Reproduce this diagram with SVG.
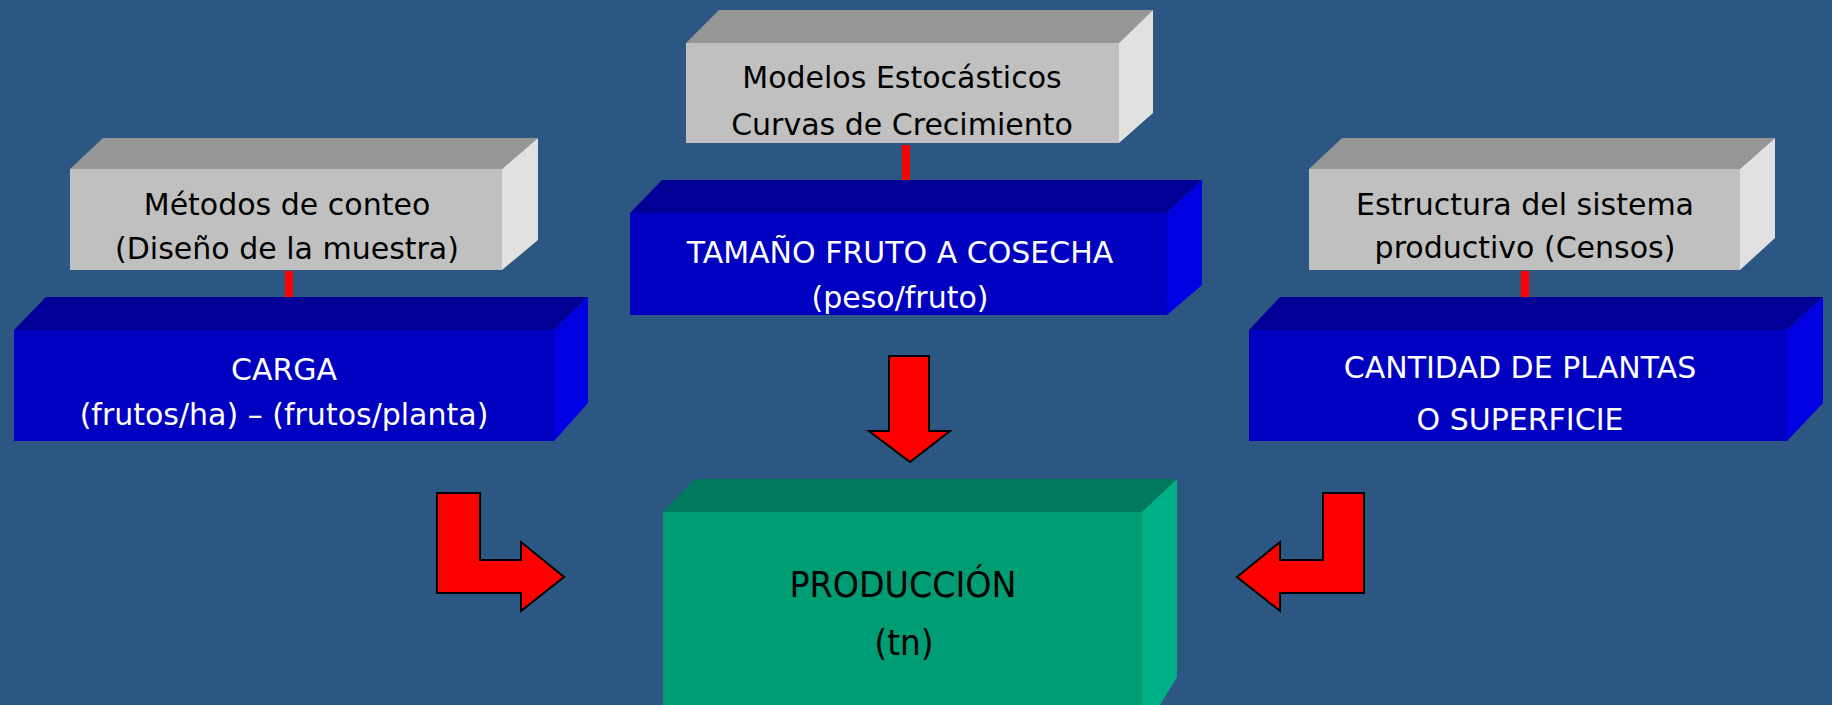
<svg xmlns="http://www.w3.org/2000/svg" width="1832" height="705" viewBox="0 0 1832 705">
<style>
.t{font-family:"DejaVu Sans","Liberation Sans",sans-serif;font-size:30px;text-anchor:middle}
.dk{fill:#000}
.wh{fill:#fff}
.gf{fill:#c0c0c0}.gt{fill:#969696}.gs{fill:#e1e1e1}
.bf{fill:#0000c0}.bt{fill:#000096}.bs{fill:#0000e3}
.ef{fill:#009c74}.et{fill:#007a5c}.es{fill:#00b087}
.link{fill:#ff0000}
.arr{fill:#ff0000;stroke:#000;stroke-width:2;stroke-linejoin:miter}
</style>
<defs>
<clipPath id="clipTam"><rect x="630" y="213" width="537" height="102"/></clipPath>
</defs>
<rect width="1832" height="705" fill="#2c5782"/>

<g id="connectors">
<rect class="link" x="285" y="271" width="8" height="52"/>
<rect class="link" x="902" y="145" width="8" height="51"/>
<rect class="link" x="1521" y="271" width="8" height="52"/>
<polygon class="arr" points="889,356 929,356 929,431 950,431 910,462 869,431 889,431"/>
<polygon class="arr" points="437,493 480,493 480,560 521,560 521,542 564,577 521,611 521,593 437,593"/>
<polygon class="arr" points="1364,493 1323,493 1323,560 1280,560 1280,542 1237,577 1280,611 1280,593 1364,593"/>
</g>

<g id="metodos">
<polygon class="gt" points="70,169 103,138 538,138 502,169"/>
<polygon class="gs" points="502,169 538,138 538,240 502,270"/>
<rect class="gf" x="70" y="169" width="432" height="101"/>
<text class="t dk" x="287" y="215">Métodos de conteo</text>
<text class="t dk" x="287" y="259">(Diseño de la muestra)</text>
</g>

<g id="carga">
<polygon class="bt" points="14,330 46,297 588,297 554,330"/>
<polygon class="bs" points="554,330 588,297 588,403 554,441"/>
<rect class="bf" x="14" y="330" width="540" height="111"/>
<text class="t wh" x="284" y="380">CARGA</text>
<text class="t wh" x="284" y="425">(frutos/ha) – (frutos/planta)</text>
</g>

<g id="modelos">
<polygon class="gt" points="686,43 719,10 1153,10 1119,43"/>
<polygon class="gs" points="1119,43 1153,10 1153,113 1119,143"/>
<rect class="gf" x="686" y="43" width="433" height="100"/>
<text class="t dk" x="902" y="88">Modelos Estocásticos</text>
<text class="t dk" x="902" y="135">Curvas de Crecimiento</text>
</g>

<g id="tamano">
<polygon class="bt" points="630,213 662,180 1202,180 1167,213"/>
<polygon class="bs" points="1167,213 1202,180 1202,285 1167,315"/>
<rect class="bf" x="630" y="213" width="537" height="102"/>
<text class="t wh" x="900" y="263">TAMAÑO FRUTO A COSECHA</text>
<text class="t wh" x="900" y="308" clip-path="url(#clipTam)">(peso/fruto)</text>
</g>

<g id="estructura">
<polygon class="gt" points="1309,169 1342,138 1775,138 1740,169"/>
<polygon class="gs" points="1740,169 1775,138 1775,238 1740,270"/>
<rect class="gf" x="1309" y="169" width="431" height="101"/>
<text class="t dk" x="1525" y="215">Estructura del sistema</text>
<text class="t dk" x="1525" y="258">productivo (Censos)</text>
</g>

<g id="cantidad">
<polygon class="bt" points="1249,330 1280,297 1823,297 1787,330"/>
<polygon class="bs" points="1787,330 1823,297 1823,403 1787,441"/>
<rect class="bf" x="1249" y="330" width="538" height="111"/>
<text class="t wh" x="1520" y="378">CANTIDAD DE PLANTAS</text>
<text class="t wh" x="1520" y="430">O SUPERFICIE</text>
</g>

<g id="produccion">
<polygon class="et" points="663,512 695,479 1177,479 1142,512"/>
<polygon class="es" points="1142,512 1177,479 1177,677 1160,705 1142,705"/>
<rect class="ef" x="663" y="512" width="479" height="193"/>
<text class="t dk" x="903" y="597" style="font-size:36px" textLength="227" lengthAdjust="spacingAndGlyphs">PRODUCCIÓN</text>
<text class="t dk" x="904" y="655" style="font-size:36px" textLength="59" lengthAdjust="spacingAndGlyphs">(tn)</text>
</g>
</svg>
